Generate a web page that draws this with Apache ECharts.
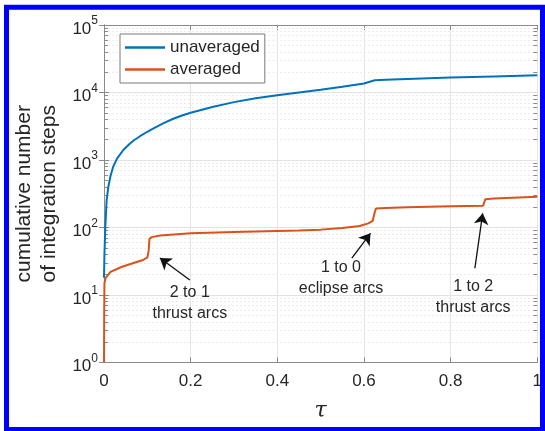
<!DOCTYPE html>
<html>
<head>
<meta charset="utf-8">
<script src="https://cdn.jsdelivr.net/npm/echarts@6/dist/echarts.min.js"></script>
<style>
  html, body { margin: 0; padding: 0; background: #fff; }
  #chart { width: 545px; height: 431px; }
</style>
</head>
<body>
<div id="chart"></div>
<script>
// Cumulative integration steps versus normalized time tau
const tauUnavg = [0, 0.001, 0.003, 0.006, 0.01, 0.015, 0.021, 0.03, 0.045, 0.06, 0.07, 0.083, 0.1, 0.11, 0.122, 0.14, 0.16, 0.18, 0.2, 0.25, 0.3, 0.35, 0.4, 0.45, 0.5, 0.55, 0.6, 0.625, 0.65, 0.7, 0.8, 0.9, 1.0];
const stepsUnavg = [18, 40, 100, 250, 400, 580, 790, 1050, 1420, 1750, 1980, 2250, 2620, 2850, 3120, 3580, 4080, 4560, 5000, 6100, 7200, 8200, 9100, 10000, 11000, 12200, 13600, 15200, 15500, 15900, 16700, 17300, 18000];

const tauAvg = [0, 0.0005, 0.001, 0.004, 0.015, 0.04, 0.07, 0.09, 0.1, 0.103, 0.105, 0.11, 0.13, 0.2, 0.3, 0.4, 0.45, 0.5, 0.55, 0.59, 0.61, 0.62, 0.625, 0.628, 0.65, 0.7, 0.8, 0.875, 0.877, 0.88, 0.9, 1.0];
const stepsAvg = [1, 6, 15, 18, 22, 26, 30, 33, 36, 45, 68, 72, 76, 82, 86, 89, 90, 93, 98, 105, 115, 125, 170, 192, 195, 200, 206, 210, 230, 262, 270, 286];

const seriesNames = ['unaveraged', 'averaged'];
const xTicks = [0, 0.2, 0.4, 0.6, 0.8, 1];
const yDecades = [1, 10, 100, 1000, 10000, 100000];

// Annotations: text anchor and arrow tail/head, in (tau, steps) units
const notes = [
  { text: '2 to 1\nthrust arcs',   at: [0.198, 7.5],  from: [0.198, 16.7], to: [0.129, 35.3] },
  { text: '1 to 0\neclipse arcs',  at: [0.547, 17.9], from: [0.572, 35.3], to: [0.615, 82] },
  { text: '1 to 2\nthrust arcs',   at: [0.852, 9.3],  from: [0.856, 24.9], to: [0.874, 162] }
];

const BLUE = '#0072BD';
const ORANGE = '#D95319';
const TEXT = '#262626';
const BOX = '#8a8a8a';

// minor log grid positions 2..9 within each decade
const minorVals = [];
for (let i = 0; i < yDecades.length - 1; i++) {
  for (let m = 2; m <= 9; m++) minorVals.push(yDecades[i] * m);
}

const zip = (a, b) => a.map((v, i) => [v, b[i]]);
const sup = v => '{b|10}{s|' + Math.round(Math.log10(v)) + '}';

const chart = echarts.init(document.getElementById('chart'), null, { renderer: 'canvas' });

const minorGridLines = minorVals.map(v => ({ yAxis: v }));
const minorTicks = [];
minorVals.forEach(v => {
  minorTicks.push([{ coord: [0, v] }, { coord: [0.009, v] }]);
  minorTicks.push([{ coord: [0.991, v] }, { coord: [1, v] }]);
});
const arrows = notes.map(n => [{ coord: n.from }, { coord: n.to }]);

chart.setOption({
  animation: false,
  backgroundColor: '#fff',
  textStyle: { fontFamily: 'Liberation Sans, Arial, sans-serif' },
  grid: { left: 104, right: 7.7, top: 25, bottom: 68.5, containLabel: false },
  legend: {
    data: seriesNames,
    orient: 'vertical',
    left: 120, top: 34, z: 50,
    padding: [5, 5, 5, 5],
    itemGap: 5,
    icon: 'rect',
    itemWidth: 40, itemHeight: 2.5,
    backgroundColor: '#fff',
    borderColor: '#7a7a7a', borderWidth: 1, borderRadius: 0,
    textStyle: { fontSize: 17, color: TEXT, padding: [0, 0, 0, 0] }
  },
  xAxis: [
    {
      type: 'value', min: 0, max: 1, interval: 0.2,
      position: 'bottom',
      name: 'τ', nameLocation: 'middle', nameGap: 38,
      nameTextStyle: { fontFamily: 'DejaVu Serif, Liberation Serif, serif', fontStyle: 'italic', fontSize: 22, color: TEXT },
      axisLine: { lineStyle: { color: BOX, width: 1 } },
      axisTick: { inside: true, length: 5, lineStyle: { color: BOX } },
      axisLabel: {
        fontSize: 17, color: TEXT, margin: 10,
        formatter: v => (v === 0 || v === 1) ? String(v) : v.toFixed(1)
      },
      splitLine: { show: true, lineStyle: { color: '#e4e4e4', width: 1 } }
    },
    {
      type: 'value', min: 0, max: 1, interval: 0.2,
      position: 'top',
      axisLine: { show: true, onZero: false, lineStyle: { color: BOX, width: 1 } },
      axisTick: { show: true, inside: true, length: 5, lineStyle: { color: BOX } },
      axisLabel: { show: false },
      splitLine: { show: false }
    }
  ],
  yAxis: [
    {
      type: 'log', logBase: 10, min: 1, max: 100000, splitNumber: 5,
      position: 'left',
      name: 'cumulative number\nof integration steps', nameLocation: 'middle', nameGap: 42,
      nameRotate: 90,
      nameTextStyle: { fontSize: 21, lineHeight: 25, color: TEXT, align: 'center' },
      axisLine: { show: true, lineStyle: { color: BOX, width: 1 } },
      axisTick: { inside: true, length: 5, lineStyle: { color: BOX } },
      axisLabel: {
        margin: 6, color: TEXT,
        formatter: sup,
        rich: {
          b: { fontSize: 17, color: TEXT, padding: [8, 0, 0, 0] },
          s: { fontSize: 12, color: TEXT, padding: [0, 0, 8, 0] }
        }
      },
      splitLine: { show: true, lineStyle: { color: '#e2e2e2', width: 1 } }
    },
    {
      type: 'log', logBase: 10, min: 1, max: 100000, splitNumber: 5,
      position: 'right',
      axisLine: { show: true, lineStyle: { color: BOX, width: 1 } },
      axisTick: { show: true, inside: true, length: 5, lineStyle: { color: BOX } },
      axisLabel: { show: false },
      splitLine: { show: false }
    }
  ],
  series: [
    {
      // minor log grid
      name: 'minorGrid', type: 'line', data: [], silent: true, z: 1,
      markLine: {
        silent: true, symbol: ['none', 'none'], animation: false,
        label: { show: false },
        lineStyle: { color: '#ececec', type: [2, 2], width: 1 },
        data: minorGridLines
      }
    },
    {
      // minor ticks along both vertical edges
      name: 'minorTicks', type: 'line', data: [], silent: true, z: 3,
      markLine: {
        silent: true, symbol: ['none', 'none'], animation: false,
        label: { show: false },
        lineStyle: { color: BOX, type: 'solid', width: 1 },
        data: minorTicks
      }
    },
    {
      name: seriesNames[0], type: 'line', data: zip(tauUnavg, stepsUnavg),
      showSymbol: false, symbol: 'none', z: 5,
      lineStyle: { color: BLUE, width: 2 }, itemStyle: { color: BLUE }
    },
    {
      name: seriesNames[1], type: 'line', data: zip(tauAvg, stepsAvg),
      showSymbol: false, symbol: 'none', z: 6,
      lineStyle: { color: ORANGE, width: 2 }, itemStyle: { color: ORANGE }
    },
    {
      // annotation arrows
      name: 'arrows', type: 'line', data: [], silent: true, z: 8,
      markLine: {
        silent: true, animation: false,
        symbol: ['none', 'arrow'], symbolSize: 11,
        label: { show: false },
        itemStyle: { color: '#111' },
        lineStyle: { color: '#111', type: 'solid', width: 1.3 },
        data: arrows
      }
    }
  ]
});

// Annotation text placed through the axes' own scales
const noteGraphics = notes.map(n => {
  const p = chart.convertToPixel({ xAxisIndex: 0, yAxisIndex: 0 }, n.at);
  return {
    type: 'text', x: p[0], y: p[1], z: 20,
    style: {
      text: n.text, fill: TEXT, fontSize: 16, lineHeight: 21,
      fontFamily: 'Liberation Sans, Arial, sans-serif',
      align: 'center', verticalAlign: 'middle'
    }
  };
});

chart.setOption({
  graphic: [
    {
      type: 'rect', z: 100, silent: true,
      shape: { x: 6.5, y: 7.2, width: 536, height: 422.3 },
      style: { fill: null, stroke: '#0000ff', lineWidth: 5 }
    }
  ].concat(noteGraphics)
});
</script>
</body>
</html>
